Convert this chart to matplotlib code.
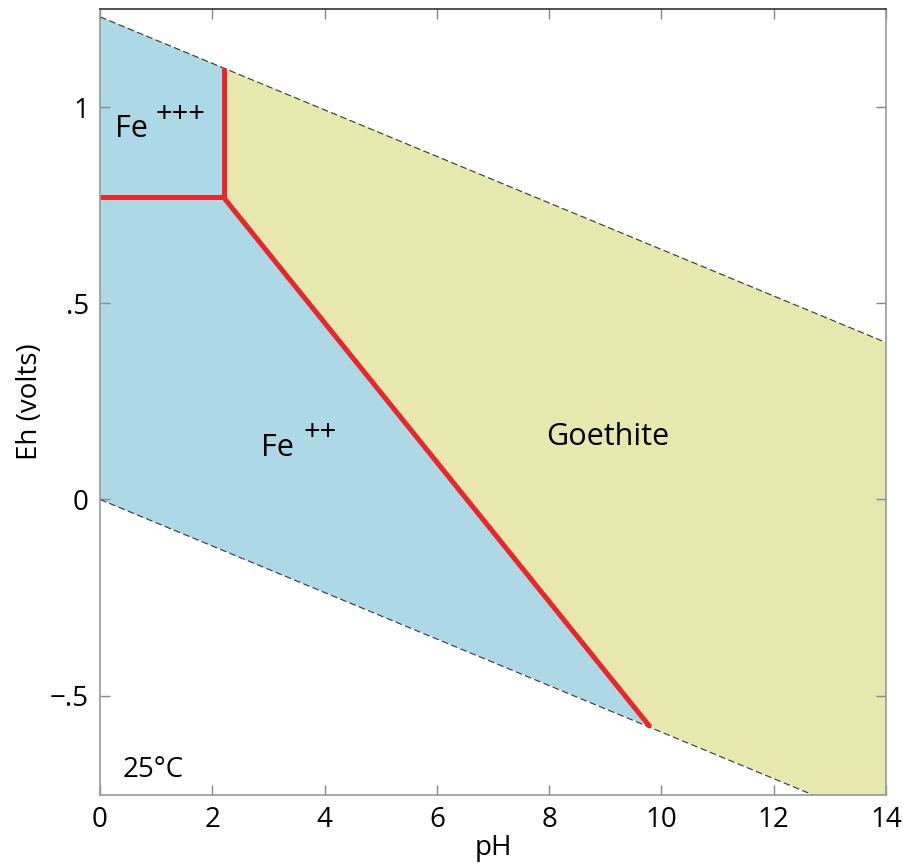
import matplotlib.pyplot as plt

plt.rcParams['font.family'] = ['Open Sans', 'DejaVu Sans']

# water stability limits (pH, Eh)
upper_ph = [0, 14]
upper_eh = [1.23, 0.40]
lower_ph = [0, 14]
lower_eh = [0.0, -0.83]

# phase boundaries
fe3_fe2_ph = [0, 2.2]
fe3_fe2_eh = [0.77, 0.77]
fe3_goe_ph = [2.2, 2.2]
fe3_goe_eh = [0.77, 1.10]
fe2_goe_ph = [2.2, 9.8]
fe2_goe_eh = [0.77, -0.58]

# stability fields
fe_ion_ph = [0, 2.2, 2.2, 9.8, 0]
fe_ion_eh = [1.23, 1.10, 0.77, -0.58, 0.0]
goethite_ph = [2.2, 14, 14, 12.72, 9.8, 2.2]
goethite_eh = [1.10, 0.40, -0.753, -0.753, -0.58, 0.77]

yticks = [-0.5, 0, 0.5, 1]
ytick_labels = ['\u2212.5', '0', '.5', '1']

fig = plt.figure(figsize=(9.07, 8.64), dpi=100)
ax = fig.add_axes([0.1103, 0.0799, 0.8666, 0.9097])

ax.fill(fe_ion_ph, fe_ion_eh, color='#add8e6', lw=0)
ax.fill(goethite_ph, goethite_eh, color='#e6e8ad', lw=0)

ax.plot(upper_ph, upper_eh, color='#333333', lw=0.8, ls=(0, (6, 3)))
ax.plot(lower_ph, lower_eh, color='#333333', lw=0.8, ls=(0, (6, 3)))

for xs, ys in [(fe3_fe2_ph, fe3_fe2_eh), (fe3_goe_ph, fe3_goe_eh), (fe2_goe_ph, fe2_goe_eh)]:
    ax.plot(xs, ys, color='#e8262b', lw=3.6, solid_capstyle='butt')

ax.text(0.27, 0.923, 'Fe', fontsize=22)
ax.text(0.98, 0.98, '+++', fontsize=21, va='center')
ax.text(2.87, 0.112, 'Fe', fontsize=22)
ax.text(3.62, 0.17, '++', fontsize=21, va='center')
ax.text(9.05, 0.158, 'Goethite', fontsize=22, ha='center', va='center')
ax.text(0.41, -0.707, '25\u00b0C', fontsize=20)

ax.set_xlim(0, 14)
ax.set_ylim(-0.753, 1.25)
ax.set_xticks(range(0, 15, 2))
ax.set_yticks(yticks)
ax.set_yticklabels(ytick_labels)
ax.tick_params(direction='in', length=7, width=1, color='#888888',
               labelsize=20, top=True, right=True, pad=8)
ax.set_xlabel('pH', fontsize=20, labelpad=0)
ax.set_ylabel('Eh (volts)', fontsize=20, labelpad=4)

for s in ax.spines.values():
    s.set_color('#999999')
    s.set_linewidth(1.2)
ax.spines['top'].set_color('#333333')

fig.savefig('out.png', dpi=100)
